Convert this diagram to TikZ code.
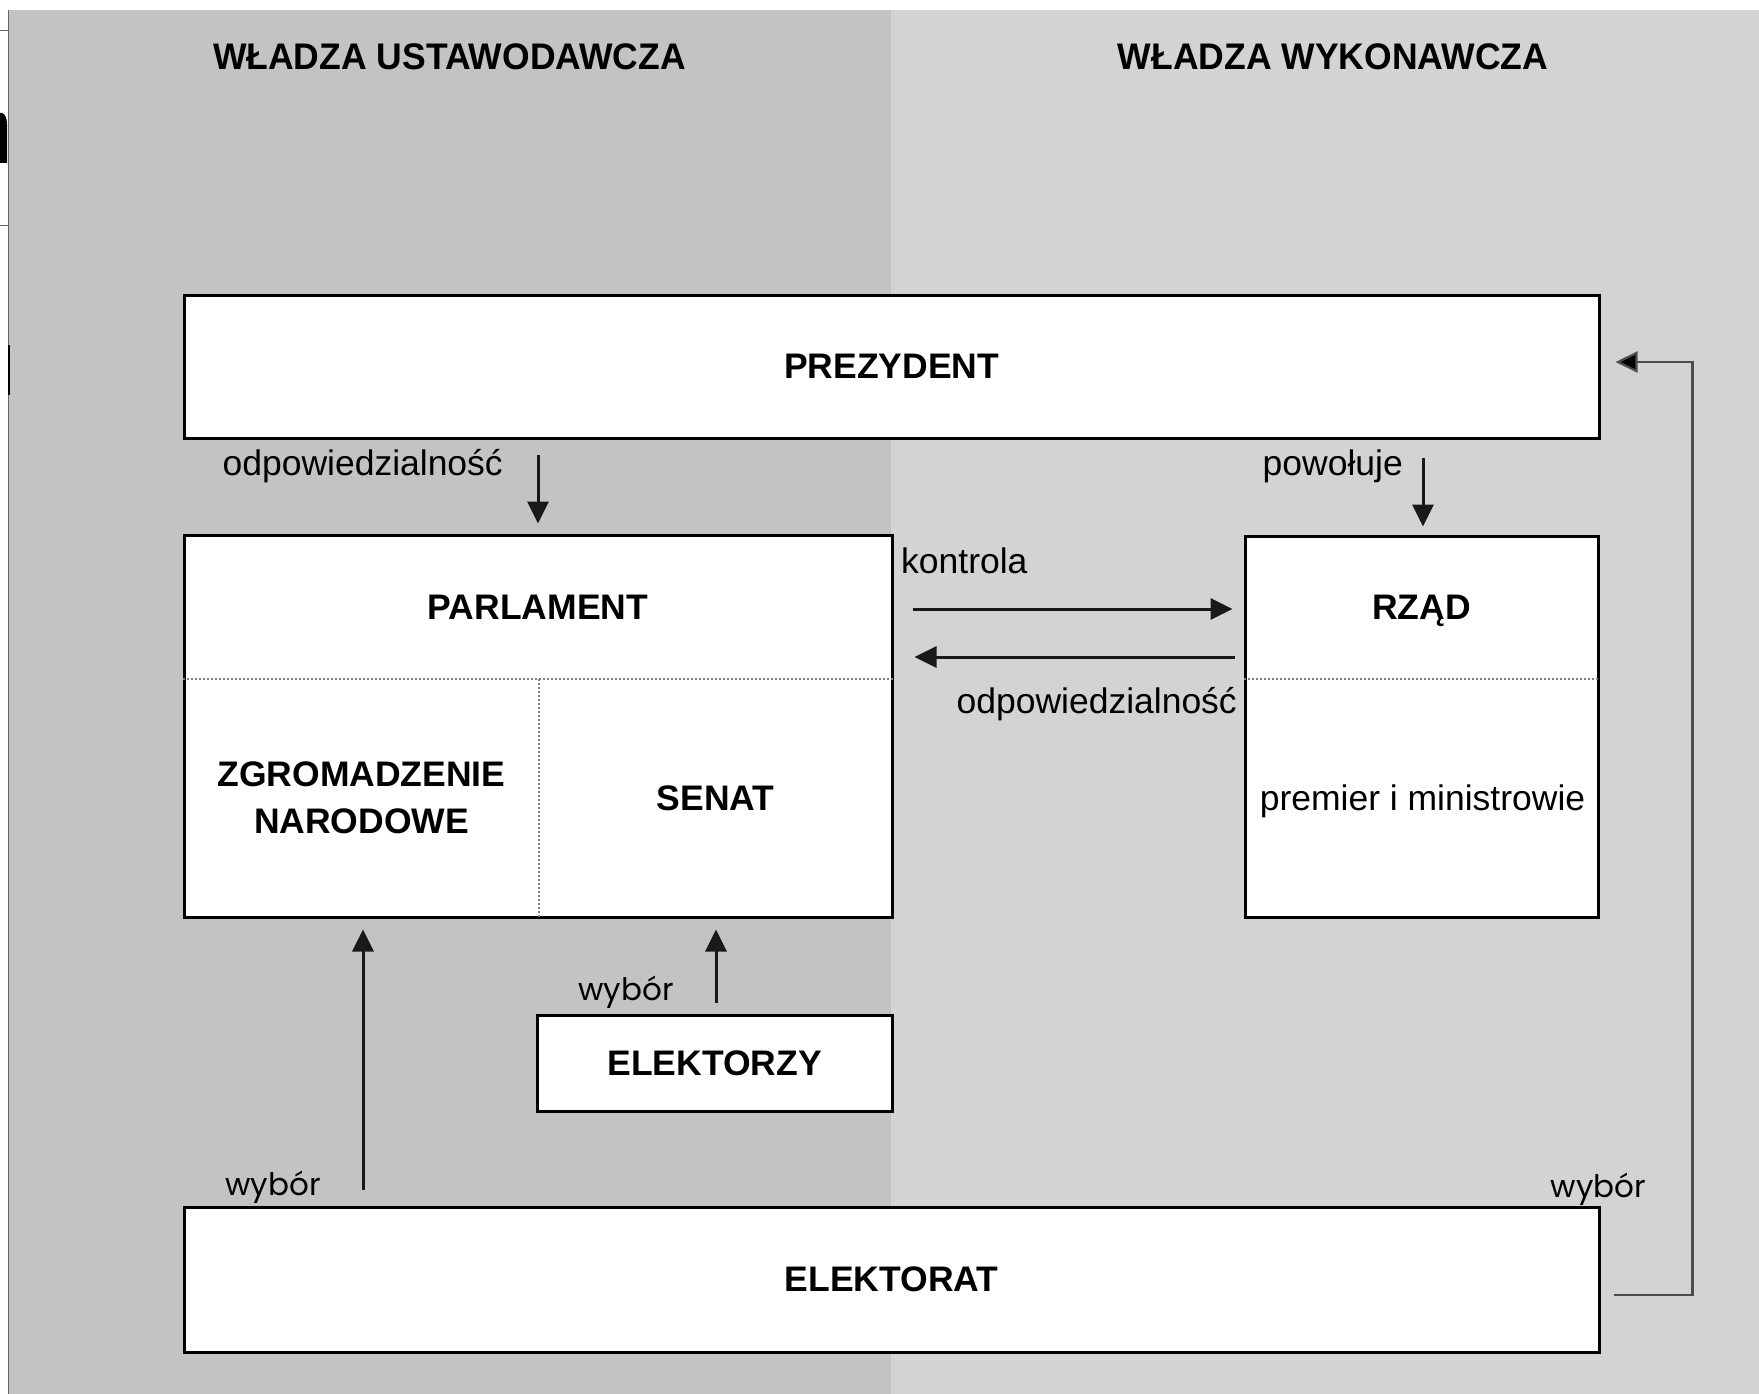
\documentclass[tikz,border=0pt]{standalone}
\usepackage{fontspec}
\setmainfont{Liberation Sans}
\newfontfamily\titlefont[FakeStretch=0.96]{Liberation Sans Bold}
\newfontfamily\geofont{Poppins}
\usetikzlibrary{arrows.meta}
\definecolor{leftbg}{RGB}{195,195,195}
\definecolor{rightbg}{RGB}{211,211,211}
\begin{document}
\begin{tikzpicture}[x=1pt,y=-1pt,
  box/.style={draw=black, line width=3pt, fill=white, inner sep=0pt, rectangle,
    font=\fontsize{35.5}{42}\selectfont\bfseries},
  boldtxt/.style={font=\fontsize{35.5}{47}\selectfont\bfseries, inner sep=0pt},
  lbl/.style={font=\fontsize{35.5}{42}\selectfont, inner sep=0pt},
  geo/.style={font=\geofont\fontsize{31}{36}\selectfont, inner sep=0pt},
  title/.style={font=\titlefont\fontsize{37}{44}\selectfont, inner sep=0pt},
  arr/.style={line width=3pt, draw=black!90, -{Triangle[length=22pt,width=21pt]}},
  fbarr/.style={line width=2.2pt, draw=black!70, -{Triangle[length=22pt,width=21pt,fill=black]}},
  dotline/.style={draw=gray, line width=1.2pt, dash pattern=on 2pt off 2pt},
  edge/.style={draw=black!60, line width=1pt}]
\useasboundingbox (0,0) rectangle (1759,1394);
% background panels
\fill[white] (0,0) rectangle (1759,1394);
\fill[leftbg] (8,10) rectangle (891,1394);
\fill[rightbg] (891,10) rectangle (1759,1394);
\draw[edge] (8.5,10) -- (8.5,1394);
% left margin fragments
\draw[edge] (0,31) -- (8,31);
\draw[edge] (0,225) -- (8,225);
\fill[black] (0,113) -- (2,113) .. controls (5,114) and (7,118) .. (7,124) -- (7,163) -- (0,163) -- cycle;
\fill[black] (8,345) rectangle (10,395);
% titles
\node[title, anchor=base] (tleft) at (449.5,70) {WŁADZA USTAWODAWCZA};
\node[title, anchor=base] (tright) at (1333,70) {WŁADZA WYKONAWCZA};
% boxes
\node[box, minimum width=1415pt, minimum height=143pt] (prez) at (891.5,366.5) {PREZYDENT};
\node[box, minimum width=708pt, minimum height=382pt] (parl) at (538,726) {};
\node[box, minimum width=353pt, minimum height=381pt] (rzad) at (1421.5,726.5) {};
\node[box, minimum width=355pt, minimum height=96pt] (elz) at (714.5,1063) {ELEKTORZY};
\node[box, minimum width=1415pt, minimum height=145pt] (elt) at (891.5,1279.5) {ELEKTORAT};
% inner dividers
\draw[dotline] ([yshift=47pt]parl.west) -- ([yshift=47pt]parl.east);
\draw[dotline] ([xshift=1pt,yshift=47pt]parl.center) -- ([xshift=1pt]parl.south);
\draw[dotline] ([yshift=47.5pt]rzad.west) -- ([yshift=47.5pt]rzad.east);
% inner texts
\node[boldtxt, anchor=base] (parlt) at (538,619.5) {PARLAMENT};
\node[boldtxt, align=center, anchor=center] (zgr) at (361.5,798) {ZGROMADZENIE\\NARODOWE};
\node[boldtxt, anchor=base] (senat) at (715.5,810.5) {SENAT};
\node[boldtxt, anchor=base] (rzadt) at (1421.5,619.5) {RZĄD};
\node[lbl, anchor=base] (prem) at (1422.5,810) {premier i ministrowie};
% labels
\node[lbl, anchor=base east] (lodp1) at (503,475) {odpowiedzialność};
\node[lbl, anchor=base east] (lpow) at (1403,475) {powołuje};
\node[lbl, anchor=base west] (lkon) at (901,573) {kontrola};
\node[lbl, anchor=base east] (lodp2) at (1237,713) {odpowiedzialność};
\node[geo, anchor=base east] (lwyb1) at (674,1000) {wybór};
\node[geo, anchor=base east] (lwyb2) at (321,1195) {wybór};
\node[geo, anchor=base east] (lwyb3) at (1646,1197) {wybór};
% connectors
\draw[arr] ([yshift=-15pt]prez.south -| parl.north) -- ([yshift=10pt]parl.north);
\draw[arr] ([xshift=1.5pt,yshift=-18pt]prez.south -| rzad.north) -- ([xshift=1.5pt,yshift=8pt]rzad.north);
\draw[arr] ([xshift=19pt,yshift=117pt]parl.east) -- ([xshift=-11pt,yshift=117.5pt]rzad.west);
\draw[arr] ([xshift=-9pt,yshift=69.5pt]rzad.west) -- ([xshift=21pt,yshift=69pt]parl.east);
\draw[arr] ([xshift=1.5pt,yshift=11pt]elz.north) -- ([xshift=1.5pt,yshift=-11pt]elz.north |- parl.south);
\draw[arr] ([xshift=1.5pt,yshift=16pt]elt.north -| zgr) -- ([xshift=1.5pt,yshift=-11pt]parl.south -| zgr);
\draw[fbarr] ([xshift=13pt,yshift=-15.5pt]elt.east) -| ([xshift=92pt,yshift=4.5pt]prez.east) -- ([xshift=15pt,yshift=4.5pt]prez.east);
\end{tikzpicture}
\end{document}
